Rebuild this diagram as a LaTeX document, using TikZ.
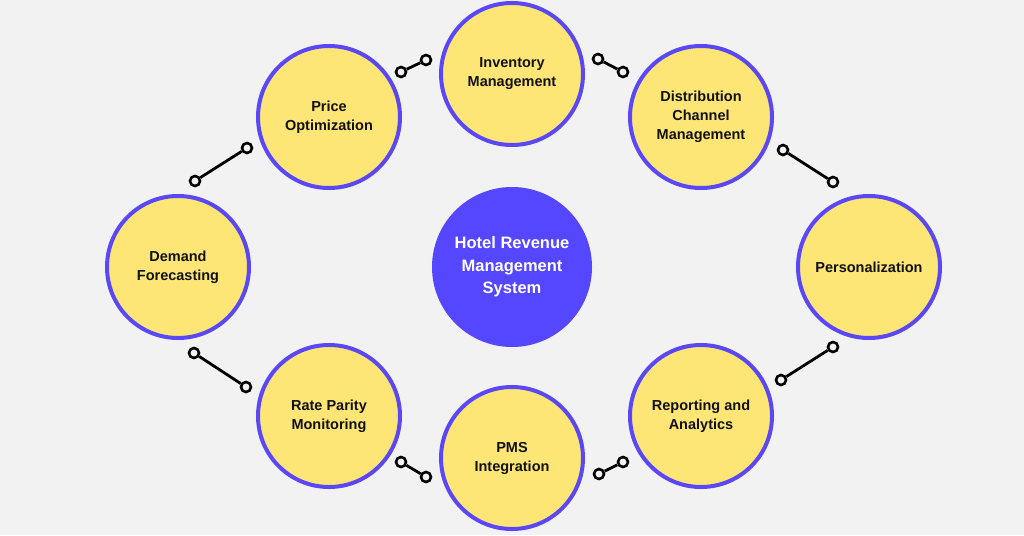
\documentclass[tikz,border=0pt]{standalone}
\usepackage{fontspec}
\setmainfont{Liberation Sans}
\usetikzlibrary{positioning}
\definecolor{bgray}{HTML}{F2F2F2}
\definecolor{hyellow}{HTML}{FDE676}
\definecolor{hpurple}{HTML}{5A48F8}
\definecolor{hcore}{HTML}{5547FF}
\definecolor{hink}{HTML}{111111}

\begin{document}
\begin{tikzpicture}[x=1pt,y=-1pt,
    topic/.style={circle,draw=hpurple,line width=4pt,fill=hyellow,minimum size=142pt,
      inner sep=0pt,align=center,text=hink,font=\bfseries\fontsize{14.5}{19}\selectfont},
    core/.style={circle,fill=hcore,minimum size=160pt,inner sep=0pt,align=center,
      text=white,font=\bfseries\fontsize{16.5}{22.5}\selectfont},
    dot/.style={circle,draw=black,line width=2.6pt,fill=bgray,minimum size=10pt,inner sep=0pt},
    link/.style={line width=2.8pt,draw=black}]
  \useasboundingbox (0,0) rectangle (1024,535);
  \fill[bgray] (0,0) rectangle (1024,535);

  % centre
  \node[core] (hrms) at (512,267) {Hotel Revenue\\Management\\System};

  % topics round it
  \node[topic] (inv) at (512,74) {Inventory\\Management};
  \node[topic] (dist) at (701,117) {Distribution\\Channel\\Management};
  \node[topic] (pers) at (869,267) {Personalization};
  \node[topic] (rep) at (701,416) {Reporting and\\Analytics};
  \node[topic] (pms) at (512,458) {PMS\\Integration};
  \node[topic] (rate) at (329,416) {Rate Parity\\Monitoring};
  \node[topic] (dem) at (178,267) {Demand\\Forecasting};
  \node[topic] (price) at (329,117) {Price\\Optimization};

  % small links between the topics
  \node[dot] (pi1) at (401,72) {};
  \node[dot] (pi2) at (426,60) {};
  \node[dot] (id1) at (598,59) {};
  \node[dot] (id2) at (623,72) {};
  \node[dot] (dp1) at (783,150) {};
  \node[dot] (dp2) at (833,182) {};
  \node[dot] (pr1) at (781,380) {};
  \node[dot] (pr2) at (833,347) {};
  \node[dot] (rp1) at (599,474) {};
  \node[dot] (rp2) at (623,462) {};
  \node[dot] (pm1) at (401,462) {};
  \node[dot] (pm2) at (426,477) {};
  \node[dot] (rd1) at (194,353) {};
  \node[dot] (rd2) at (246,387) {};
  \node[dot] (dm1) at (195,181) {};
  \node[dot] (dm2) at (247,148) {};

  \draw[link] (pi1) -- (pi2);
  \draw[link] (id1) -- (id2);
  \draw[link] (dp1) -- (dp2);
  \draw[link] (pr1) -- (pr2);
  \draw[link] (rp1) -- (rp2);
  \draw[link] (pm1) -- (pm2);
  \draw[link] (rd1) -- (rd2);
  \draw[link] (dm1) -- (dm2);
\end{tikzpicture}
\end{document}
